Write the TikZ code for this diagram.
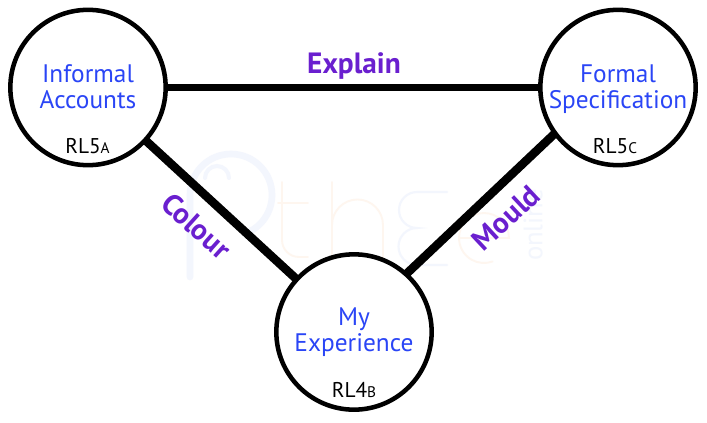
\documentclass[tikz,border=0pt]{standalone}
\usepackage{fontspec}
\setmainfont{PT Sans}
\definecolor{nodeblue}{HTML}{2A45F6}
\definecolor{labelpurple}{HTML}{6A1FCF}
\definecolor{markblue}{HTML}{F3F6FD}
\definecolor{markorange}{HTML}{FEF6EF}
\tikzset{
  x=0.75pt,y=-0.75pt,
  bubble/.style={circle,draw=black,line width=3.4pt,fill=white,minimum size=116.5pt,inner sep=0pt,outer sep=0pt},
  title/.style={text=nodeblue,align=center,font=\fontsize{19pt}{19.5pt}\selectfont,inner sep=0pt},
  rl/.style={text=black,anchor=base,font=\fontsize{16pt}{17pt}\selectfont,inner sep=0pt},
  link/.style={draw=black,line width=5.6pt},
  slant/.style={draw=black,line width=6.4pt},
  tag/.style={text=labelpurple,font=\fontsize{22pt}{24pt}\selectfont\bfseries,inner sep=0pt},
  markb/.style={draw=markblue,line width=1.6pt,line cap=round},
  marko/.style={draw=markorange,line width=1.4pt,line cap=round}
}
\begin{document}
\begin{tikzpicture}
\useasboundingbox (0,0) rectangle (707,422);
\fill[white] (0,0) rectangle (707,422);
% faint watermark
\draw[markb,line width=5pt] (190,277) -- (190,195) arc[start angle=180,end angle=430,radius=41];
\draw[markb,line width=3pt] (205,178) arc[start angle=180,end angle=360,radius=12];
\draw[marko] (282,182) -- (282,240) arc[start angle=180,end angle=90,radius=17] -- (308,257);
\draw[marko] (278,203) -- (308,203);
\draw[marko] (332,182) -- (332,262);
\draw[marko] (332,225) arc[start angle=180,end angle=360,radius=25.5] -- (383,262);
\draw[markb] (447,192) -- (417,192) arc[start angle=270,end angle=90,radius=18] arc[start angle=270,end angle=90,radius=18.5] -- (447,265);
\draw[marko] (459,238) -- (509,238) arc[start angle=360,end angle=180,radius=25] arc[start angle=180,end angle=70,radius=25];
\node[text=markblue,rotate=90,font=\fontsize{20pt}{22pt}\selectfont,inner sep=0pt] (mark) at (533,225) {online};
\node[bubble] (a) at (88,87.5) {};
\node[bubble] (c) at (618,87.5) {};
\node[bubble] (b) at (354,332) {};
\draw[link] (a) -- (c);
\draw[slant] (a) -- (b);
\draw[slant] (c.216) -- (b.48);
\node[title] (ta) at (88,89.8) {\strut Informal\\\strut Accounts};
\node[title] (tc) at (618,89.8) {\strut Formal\\\strut Specification};
\node[title] (tb) at (354,332.8) {\strut My\\\strut Experience};
\node[rl] (ra) at (87.5,153) {RL5{\fontsize{11.5pt}{12pt}\selectfont A}};
\node[rl] (rc) at (615,153) {RL5{\fontsize{11.5pt}{12pt}\selectfont C}};
\node[rl] (rb) at (354,397) {RL4{\fontsize{11.5pt}{12pt}\selectfont B}};
\node[tag,anchor=base] (le) at (354,73) {Explain};
\node[tag,rotate=-42] (lc) at (196.5,226) {Colour};
\node[tag,rotate=43] (lm) at (506,218) {Mould};
\end{tikzpicture}
\end{document}
